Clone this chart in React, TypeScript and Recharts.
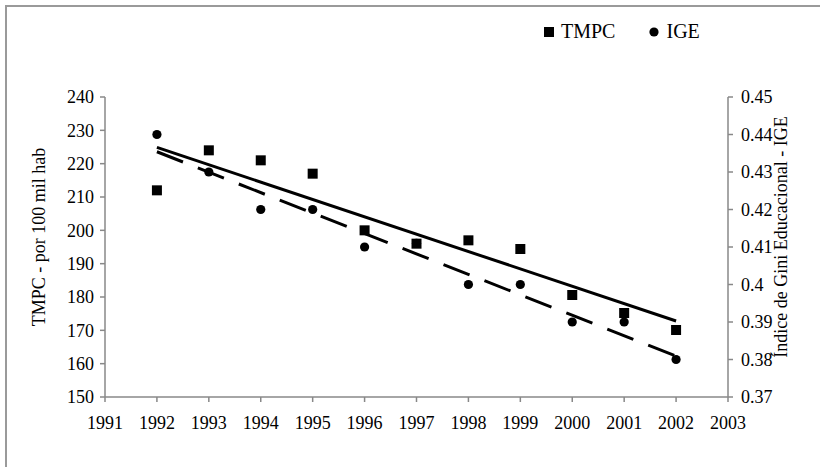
import React from "react";
import { ComposedChart, Scatter, XAxis, YAxis } from "recharts";

const years = [1992, 1993, 1994, 1995, 1996, 1997, 1998, 1999, 2000, 2001, 2002];
const tmpcValues = [212, 224, 221, 217, 200, 196, 197, 194.4, 180.6, 175.2, 170.1];
const igeValues = [0.44, 0.43, 0.42, 0.42, 0.41, 0.411, 0.4, 0.4, 0.39, 0.39, 0.38];

const trendYears = [1992, 2002];
const tmpcTrendValues = [224.9, 172.8];
const igeTrendValues = [0.4354, 0.3809];

const xTicks = [1991, 1992, 1993, 1994, 1995, 1996, 1997, 1998, 1999, 2000, 2001, 2002, 2003];
const leftTicks = [150, 160, 170, 180, 190, 200, 210, 220, 230, 240];
const rightTicks = [0.37, 0.38, 0.39, 0.4, 0.41, 0.42, 0.43, 0.44, 0.45];

const seriesNames = ["TMPC", "IGE"];

const tmpcData = years.map((x, i) => ({ x, y: tmpcValues[i] }));
const igeData = years.map((x, i) => ({ x, y: igeValues[i] }));
const tmpcTrend = trendYears.map((x, i) => ({ x, y: tmpcTrendValues[i] }));
const igeTrend = trendYears.map((x, i) => ({ x, y: igeTrendValues[i] }));

const FONT = "Liberation Serif, Times New Roman, serif";
const AXIS = "#888888";

const Square = (props: any) => {
  const { cx, cy } = props;
  if (cx == null || cy == null) return <g />;
  return <rect x={cx - 5} y={cy - 5} width={10} height={10} fill="#000" />;
};
const Dot = (props: any) => {
  const { cx, cy } = props;
  if (cx == null || cy == null) return <g />;
  return <circle cx={cx} cy={cy} r={4.6} fill="#000" />;
};
const NoShape = () => <g />;

const LeftLabel = (props: any) => {
  const vb = props.viewBox || {};
  const cx = (vb.x ?? 0) + 39;
  const cy = (vb.y ?? 0) + (vb.height ?? 0) / 2 - 10;
  return (
    <text x={cx} y={cy} transform={`rotate(-90 ${cx} ${cy})`} textAnchor="middle" dominantBaseline="central" style={{ fontFamily: FONT }} fontSize={18} fill="#000">
      TMPC - por 100 mil hab
    </text>
  );
};
const RightLabel = (props: any) => {
  const vb = props.viewBox || {};
  const cx = (vb.x ?? 0) + 53;
  const cy = (vb.y ?? 0) + (vb.height ?? 0) / 2 - 10;
  return (
    <text x={cx} y={cy} transform={`rotate(-90 ${cx} ${cy})`} textAnchor="middle" dominantBaseline="central" style={{ fontFamily: FONT }} fontSize={18} fill="#000">
      Índice de Gini Educacional - IGE
    </text>
  );
};

const fmtRight = (v: number) => String(Number(v.toFixed(2)));
const tickStyle = { fill: "#000", fontFamily: FONT, fontSize: 18 };

export default function App() {
  return (
    <div style={{ position: "absolute", left: 0, top: 0, width: 820, height: 467, background: "#fff", overflow: "hidden" }}>
      <div style={{ position: "absolute", left: 5, top: 5, width: 900, height: 600, borderTop: "2px solid #9a9a9a", borderLeft: "2px solid #9a9a9a" }} />
      <div style={{ position: "absolute", left: 543, top: 20, display: "flex", alignItems: "center", fontFamily: FONT, fontSize: 20, color: "#000", whiteSpace: "nowrap" }}>
        <svg width={12} height={12} style={{ marginRight: 6 }}>
          <rect x={1} y={1} width={10} height={10} fill="#000" />
        </svg>
        <span>{seriesNames[0]}</span>
        <svg width={12} height={12} style={{ marginLeft: 33, marginRight: 6 }}>
          <circle cx={6} cy={6} r={4.6} fill="#000" />
        </svg>
        <span>{seriesNames[1]}</span>
      </div>
      <div style={{ position: "absolute", left: 0, top: 0 }}>
        <ComposedChart width={820} height={467} margin={{ top: 97, right: 0, bottom: 0, left: 0 }}>
          <XAxis
            type="number"
            dataKey="x"
            domain={[1991, 2003]}
            ticks={xTicks}
            allowDataOverflow
            height={70}
            stroke={AXIS}
            strokeWidth={1.5}
            tickSize={5}
            tickMargin={14}
            tick={tickStyle}
            tickLine={{ stroke: AXIS, strokeWidth: 1.5 }}
          />
          <YAxis
            yAxisId="left"
            type="number"
            dataKey="y"
            domain={[150, 240]}
            ticks={leftTicks}
            allowDataOverflow
            width={105}
            stroke={AXIS}
            strokeWidth={1.5}
            tickSize={5}
            tickMargin={6}
            tick={tickStyle}
            tickLine={{ stroke: AXIS, strokeWidth: 1.5 }}
            label={<LeftLabel />}
          />
          <YAxis
            yAxisId="right"
            orientation="right"
            type="number"
            dataKey="y"
            domain={[0.37, 0.45]}
            ticks={rightTicks}
            tickFormatter={fmtRight}
            allowDataOverflow
            width={92}
            stroke={AXIS}
            strokeWidth={1.5}
            tickSize={5}
            tickMargin={8}
            tick={tickStyle}
            tickLine={{ stroke: AXIS, strokeWidth: 1.5 }}
            label={<RightLabel />}
          />
          <Scatter name="IGE" yAxisId="right" data={igeData} shape={<Dot />} isAnimationActive={false} />
          <Scatter name="TMPC" yAxisId="left" data={tmpcData} shape={<Square />} isAnimationActive={false} />
          <Scatter
            name="TMPC trend"
            yAxisId="left"
            data={tmpcTrend}
            shape={<NoShape />}
            line={{ stroke: "#000", strokeWidth: 3 }}
            isAnimationActive={false}
            legendType="none"
          />
          <Scatter
            name="IGE trend"
            yAxisId="right"
            data={igeTrend}
            shape={<NoShape />}
            line={{ stroke: "#000", strokeWidth: 3, strokeDasharray: "28 16" }}
            isAnimationActive={false}
            legendType="none"
          />
        </ComposedChart>
      </div>
    </div>
  );
}
